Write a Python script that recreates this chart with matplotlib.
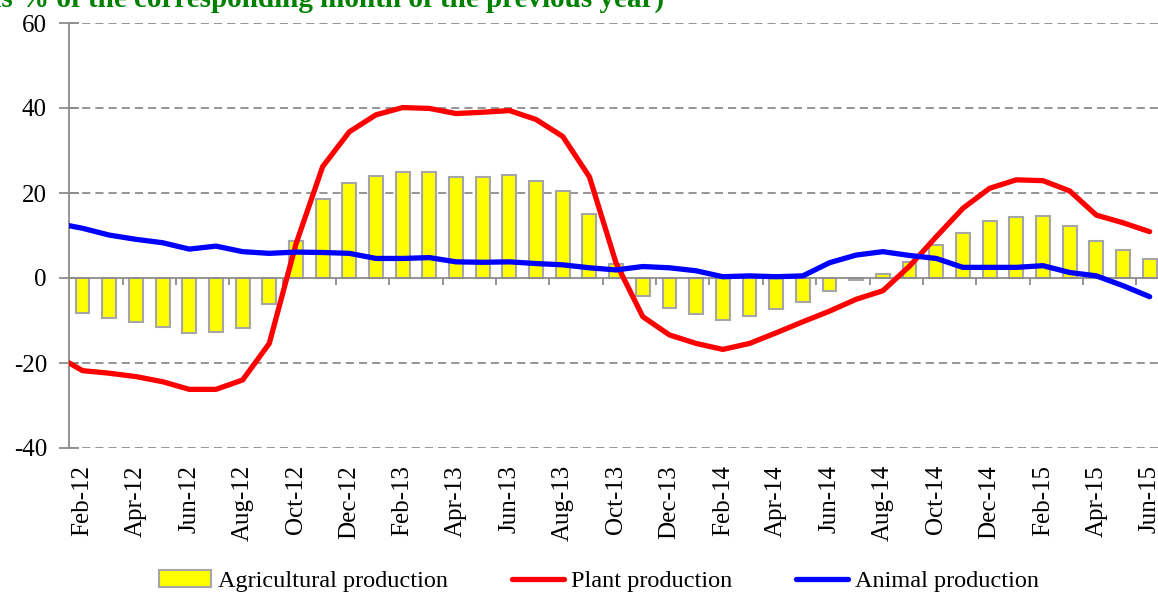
import numpy as np
import pandas as pd
import matplotlib
matplotlib.use("Agg")
import matplotlib.pyplot as plt
from matplotlib.patches import Patch
from matplotlib.lines import Line2D

plt.rcParams.update({
    "font.family": ["Liberation Serif", "DejaVu Serif"],
    "font.size": 18,
    "axes.unicode_minus": False,
})

months = list(pd.date_range("2012-02-01", periods=41, freq="MS").strftime("%b-%y"))

# y/y change, %
agricultural = [-8.2, -9.5, -10.3, -11.5, -13.0, -12.8, -11.8, -6.2,
                8.8, 18.5, 22.3, 24.0, 25.0, 24.9, 23.8,
                23.8, 24.2, 22.9, 20.5, 15.1,
                3.2, -4.2, -7.0, -8.5, -9.9, -8.9, -7.3, -5.6, -3.1,
                -0.5, 1.0, 3.8, 7.8, 10.6, 13.3, 14.4, 14.5, 12.2, 8.8, 6.7, 4.5]
plant = [-21.8, -22.4, -23.2, -24.4, -26.2, -26.2, -24.0, -15.4,
         8.0, 26.2, 34.4, 38.4, 40.1, 39.9, 38.7,
         39.0, 39.4, 37.3, 33.3, 23.8,
         3.5, -9.1, -13.4, -15.4, -16.8, -15.4, -12.9, -10.3, -7.8,
         -5.0, -3.0, 2.8, 9.7, 16.4, 21.1, 23.1, 22.9, 20.5, 14.8, 13.0, 10.9]
animal = [11.7, 10.1, 9.1, 8.3, 6.8, 7.5, 6.2, 5.8,
          6.1, 6.0, 5.8, 4.6, 4.6, 4.8, 3.8,
          3.7, 3.8, 3.4, 3.1, 2.4,
          1.9, 2.7, 2.4, 1.7, 0.3, 0.5, 0.3, 0.5, 3.6,
          5.4, 6.2, 5.3, 4.6, 2.5, 2.5, 2.5, 2.9, 1.3, 0.5, -1.8, -4.4]
# Jan-12 points, only the stub of the line reaching the left edge is visible
plant_jan12 = -18.2
animal_jan12 = 12.9

title = "(as % of the corresponding month of the previous year)"

W, H = 1158, 594
fig = plt.figure(figsize=(W / 100, H / 100), dpi=100)
ax = fig.add_axes([69.2 / W, 1 - 448 / H, (1163 - 69.2) / W, 425 / H])

x = np.arange(len(months))
xl = np.arange(-1, len(months))

grey = "#8c8c8c"
for g in [-40, -20, 20, 40, 60]:
    ax.axhline(g, color=grey, lw=1.3, linestyle=(0, (4.5, 2.8)), zorder=0)

ax.bar(x, agricultural, width=0.52, color="#ffff00", edgecolor="#a6a6a6",
       linewidth=1.5, zorder=2)
ax.plot(xl, [plant_jan12] + plant, color="#ff0000", lw=3.8,
        solid_capstyle="round", solid_joinstyle="round", zorder=4)
ax.plot(xl, [animal_jan12] + animal, color="#0000ff", lw=3.8,
        solid_capstyle="round", solid_joinstyle="round", zorder=4)

ax.set_xlim(-0.5, len(months) - 0.5)
ax.set_ylim(-40, 60)

for s in ["top", "right"]:
    ax.spines[s].set_visible(False)
ax.spines["left"].set_color(grey)
ax.spines["left"].set_linewidth(1.3)
ax.spines["bottom"].set_position(("data", 0))
ax.spines["bottom"].set_color(grey)
ax.spines["bottom"].set_linewidth(1.3)
ax.spines["bottom"].set_zorder(3)

ax.set_yticks(range(-40, 61, 20))
ax.tick_params(axis="y", direction="inout", length=14, width=1.3, color=grey,
               pad=9, labelsize=18)
ax.set_xticks(np.arange(1.5, len(months) - 1, 2))
ax.set_xticklabels([])
ax.tick_params(axis="x", direction="out", length=5, width=1.3, color=grey)

for i in range(0, len(months), 2):
    ax.text(i, -44, months[i], rotation=90, ha="center", va="top", fontsize=18)

# title sits mostly above the picture, as in the source crop
fig.text(-23 / W, 1 - 7 / H, title, color="#008000", fontweight="bold",
         fontsize=21, ha="left", va="baseline")

handles = [Patch(facecolor="#ffff00", edgecolor="#a6a6a6", linewidth=1.5),
           Line2D([], [], color="#ff0000", lw=3.8, solid_capstyle="round"),
           Line2D([], [], color="#0000ff", lw=3.8, solid_capstyle="round")]
fig.legend(handles, ["Agricultural production", "Plant production", "Animal production"],
           loc="center", bbox_to_anchor=(599 / W, 1 - 581 / H), ncol=3, frameon=False,
           fontsize=17.5, handlelength=2.15, handletextpad=0.3, columnspacing=2.6)

fig.savefig("out.png", dpi=100)
